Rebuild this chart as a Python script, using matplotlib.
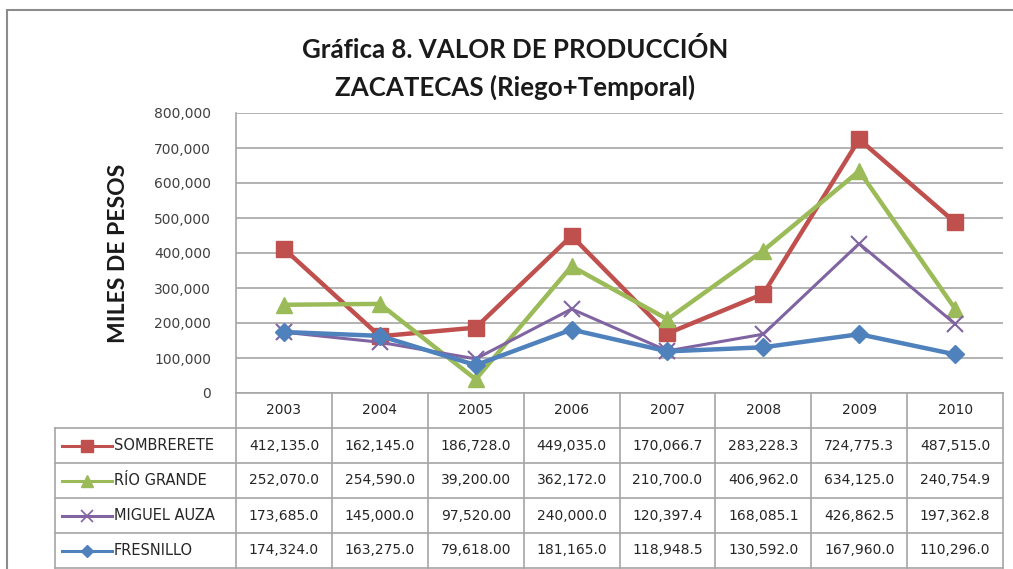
import matplotlib
matplotlib.use('Agg')
import matplotlib.pyplot as plt
from matplotlib.lines import Line2D
from matplotlib.patches import Rectangle

years = ['2003', '2004', '2005', '2006', '2007', '2008', '2009', '2010']
sombrerete = [412135.0, 162145.0, 186728.0, 449035.0, 170066.7, 283228.3, 724775.3, 487515.0]
rio_grande = [252070.0, 254590.0, 39200.0, 362172.0, 210700.0, 406962.0, 634125.0, 240754.9]
miguel_auza = [173685.0, 145000.0, 97520.0, 240000.0, 120397.4, 168085.1, 426862.5, 197362.8]
fresnillo = [174324.0, 163275.0, 79618.0, 181165.0, 118948.5, 130592.0, 167960.0, 110296.0]

series_names = ['SOMBRERETE', 'RÍO GRANDE', 'MIGUEL AUZA', 'FRESNILLO']
series_values = [sombrerete, rio_grande, miguel_auza, fresnillo]
colors = ['#C0504D', '#9BBB59', '#8064A2', '#4F81BD']
markers = ['s', '^', 'x', 'D']
msizes = [12, 12, 11, 9]

W, H = 1013, 569
plt.rcParams['font.family'] = ['Lato', 'DejaVu Sans']
num_font = 'DejaVu Sans'

fig = plt.figure(figsize=(W / 100, H / 100), dpi=100)

def fx(x):
    return x / W

def fy(y):
    return 1 - y / H

# plot area in pixels
left, right, top, bottom = 236, 1003, 113, 393
ax = fig.add_axes([fx(left), fy(bottom), fx(right - left), (bottom - top) / H])

x = list(range(len(years)))
for vals, c, m, ms in zip(series_values, colors, markers, msizes):
    mew = 1.5 if m == 'x' else 1
    lw = 2.2 if m == 'x' else 3.2
    ax.plot(x, vals, color=c, lw=lw, marker=m, markersize=ms,
            markerfacecolor=c, markeredgecolor=c, markeredgewidth=mew)

ax.set_xlim(-0.5, len(years) - 0.5)
ax.set_ylim(0, 800000)
ax.set_yticks(range(0, 800001, 100000))
ax.set_yticklabels([f'{v:,}' for v in range(0, 800001, 100000)], family=num_font)
ax.tick_params(axis='y', length=0, pad=18, labelsize=10, labelcolor='#404040')
ax.set_xticks([])
ax.grid(axis='y', color='#A6A6A6', lw=1.2)
ax.set_axisbelow(True)
for s in ['top', 'right', 'bottom']:
    ax.spines[s].set_visible(False)
ax.spines['left'].set_color('#A6A6A6')
ax.spines['left'].set_linewidth(1.2)

# titles
fig.text(fx(515), fy(50), 'Gráfica 8. VALOR DE PRODUCCIÓN', ha='center', va='center',
         fontsize=18.6, fontweight='bold', color='#1a1a1a')
fig.text(fx(515), fy(87), 'ZACATECAS (Riego+Temporal)', ha='center', va='center',
         fontsize=18.6, fontweight='bold', color='#1a1a1a')
fig.text(fx(118), fy(253), 'MILES DE PESOS', ha='center', va='center', rotation=90,
         fontsize=16.5, fontweight='bold', color='#1a1a1a')

# outer chart border
fig.add_artist(Rectangle((fx(7), fy(620)), fx(1100), (620 - 10) / H, transform=fig.transFigure,
                         fill=False, ec='#8c8c8c', lw=1.5))

# data table
grid_c = '#A6A6A6'
col_w = (right - left) / len(years)
row_h = 35
header_bot = bottom + row_h
tab_left = 55
n_rows = len(series_names)
tab_bot = header_bot + row_h * n_rows

def hline(x0, x1, y):
    fig.add_artist(Line2D([fx(x0), fx(x1)], [fy(y), fy(y)], transform=fig.transFigure,
                          color=grid_c, lw=1.2))

def vline(xp, y0, y1):
    fig.add_artist(Line2D([fx(xp), fx(xp)], [fy(y0), fy(y1)], transform=fig.transFigure,
                          color=grid_c, lw=1.2))

for i in range(len(years) + 1):
    vline(left + i * col_w, bottom, tab_bot)
vline(tab_left, header_bot, tab_bot)
hline(left, right, bottom)
for r in range(n_rows + 1):
    hline(tab_left, right, header_bot + r * row_h)

for i, yr in enumerate(years):
    fig.text(fx(left + (i + 0.5) * col_w), fy(bottom + row_h / 2), yr, ha='center', va='center',
             fontsize=10, color='#262626', family=num_font)

def fmt(v):
    return f'{v:,.2f}' if v < 100000 else f'{v:,.1f}'

for r, (name, vals, c, m) in enumerate(zip(series_names, series_values, colors, markers)):
    yc = header_bot + (r + 0.5) * row_h
    mew = 1.2 if m == 'x' else 1
    fig.add_artist(Line2D([fx(62), fx(112)], [fy(yc), fy(yc)], transform=fig.transFigure,
                          color=c, lw=2.2))
    fig.add_artist(Line2D([fx(87)], [fy(yc)], transform=fig.transFigure, color=c,
                          marker=m, markersize=8 if m != 'D' else 6.5, markerfacecolor=c,
                          markeredgecolor=c, markeredgewidth=mew, lw=0))
    fig.text(fx(114), fy(yc), name, ha='left', va='center', fontsize=10.5, color='#262626',
             family=num_font)
    for i, v in enumerate(vals):
        fig.text(fx(left + (i + 0.5) * col_w), fy(yc), fmt(v), ha='center', va='center',
                 fontsize=10, color='#262626', family=num_font)

plt.savefig('out.png', dpi=100)
